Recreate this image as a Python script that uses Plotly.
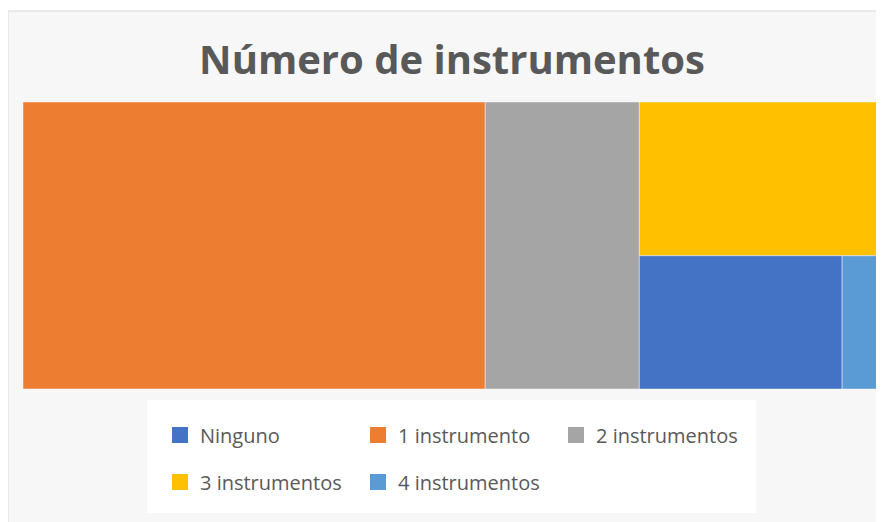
import plotly.graph_objects as go

# Datos (porcentaje aproximado de cada grupo)
categorias = ['Ninguno', '1 instrumento', '2 instrumentos', '3 instrumentos', '4 instrumentos']
valores = [11, 54, 18, 15, 2]
colores = ['#4472C4', '#ED7D31', '#A5A5A5', '#FFC000', '#5B9BD5']

# la página añade 8px de margen, así que la figura es 8px más pequeña
W, H = 876, 514
fuente = 'Open Sans'
gris = '#595959'


def fx(x):
    return (x - 8) / W


def fy(y):
    return 1 - (y - 8) / H


fig = go.Figure()

fig.add_trace(go.Treemap(
    labels=categorias,
    parents=[''] * len(categorias),
    values=valores,
    marker=dict(colors=colores, line=dict(width=0.5, color='#F2F2F2'),
                pad=dict(t=0, l=0, r=0, b=0)),
    tiling=dict(packing='squarify', squarifyratio=1, pad=0),
    pathbar=dict(visible=False),
    textinfo='none',
    hoverinfo='label+value',
    domain=dict(x=[fx(23), fx(879)], y=[fy(389), fy(102)]),
))

# Leyenda: dos filas, como en el original
filas = [[0, 1, 2], [3, 4]]
for n, fila in enumerate(filas):
    nombre = 'legend' if n == 0 else 'legend2'
    for i in fila:
        fig.add_trace(go.Scatter(
            x=[None], y=[None], mode='markers',
            name=categorias[i],
            marker=dict(symbol='square', size=16, color=colores[i]),
            legend=nombre,
        ))

leyenda_base = dict(
    orientation='h',
    entrywidth=153, entrywidthmode='pixels',
    font=dict(family=fuente, size=20, color=gris),
    bgcolor='rgba(0,0,0,0)',
    xanchor='left', yanchor='middle',
    x=fx(160),
    itemclick=False, itemdoubleclick=False,
)

fig.update_layout(
    width=W, height=H,
    margin=dict(l=0, r=0, t=0, b=0),
    paper_bgcolor='white',
    plot_bgcolor='rgba(0,0,0,0)',
    title=dict(
        text='<b>Número de instrumentos</b>',
        x=fx(452), xanchor='center', y=fy(60), yanchor='middle',
        font=dict(family=fuente, size=40, color=gris),
    ),
    xaxis=dict(visible=False),
    yaxis=dict(visible=False),
    legend=dict(leyenda_base, y=fy(435)),
    legend2=dict(leyenda_base, y=fy(482)),
    shapes=[
        # fondo del área del gráfico
        dict(type='rect', xref='paper', yref='paper', layer='below',
             x0=fx(8), x1=1.01, y0=-0.01, y1=fy(11),
             fillcolor='#F7F7F7', line=dict(color='#D9D9D9', width=1)),
        # caja blanca de la leyenda
        dict(type='rect', xref='paper', yref='paper', layer='below',
             x0=fx(147), x1=fx(756), y0=fy(513), y1=fy(400),
             fillcolor='white', line=dict(width=0)),
    ],
)

fig.write_html('out.html')
